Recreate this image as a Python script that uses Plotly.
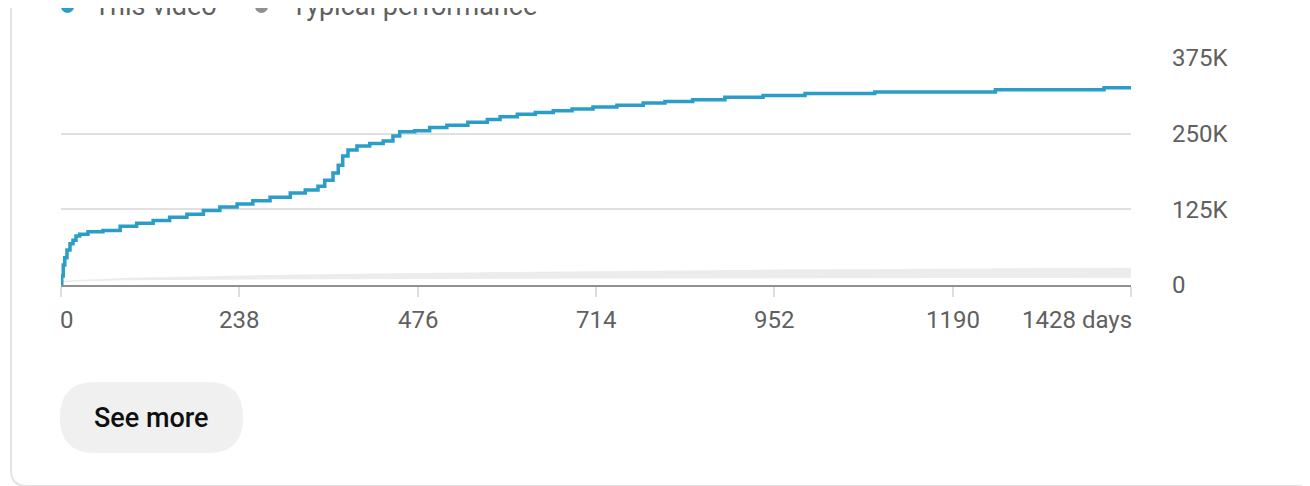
import plotly.graph_objects as go

# cumulative views, "This video"
days = [0, 1, 3, 5, 8, 12, 16, 20, 25, 36, 56, 79, 101, 123, 145, 168, 190, 212, 235, 256,
        279, 306, 326, 343, 352, 363, 370, 376, 383, 395, 412, 430, 443, 452, 472, 492, 515,
        543, 569, 586, 609, 633, 657, 682, 710, 742, 777, 806, 843, 886, 937, 993, 1086,
        1247, 1392, 1428]
views = [0, 15000, 33000, 45000, 58000, 68000, 74000, 81000, 84000, 88000, 90000, 97000,
         102000, 106500, 112000, 117000, 123000, 129000, 134000, 139000, 145000, 152000,
         157000, 163000, 173000, 185000, 198000, 213000, 223000, 229500, 233600, 238000,
         246000, 253000, 255000, 260000, 264000, 269000, 273600, 278000, 282000, 285000,
         288000, 290600, 294000, 297000, 300500, 303000, 306000, 310000, 313000, 316500,
         319000, 322500, 325700, 325700]

# typical performance band
typ_days = [0, 30, 90, 180, 300, 476, 714, 952, 1190, 1428]
typ_low = [4000, 6000, 8000, 9000, 9500, 10000, 10500, 11000, 11500, 12000]
typ_high = [7000, 9000, 12000, 14000, 17000, 20000, 23000, 25500, 27000, 28500]

x_ticks = [0, 238, 476, 714, 952, 1190, 1428]
x_tick_labels = ["0", "238", "476", "714", "952", "1190", "1428 days"]
y_ticks = [0, 125000, 250000, 375000]
y_tick_labels = ["0", "125K", "250K", "375K"]

BLUE = "#2b9dc9"
GREY_TXT = "#606060"
FONT = "Roboto"

# page has an 8px body margin, so the figure sits 8px right/down
W, H = 1310, 486
ML, MT = 53, 50
PW, PH = 1070, 227
MR, MB = W - ML - PW, H - MT - PH


def px(x):
    # page pixel -> paper x
    return (x - 61) / PW


def py(y):
    # page pixel -> paper y
    return (285 - y) / PH


fig = go.Figure()
fig.add_trace(go.Scatter(x=typ_days, y=typ_low, mode="lines", line=dict(width=0, color="#ececec"),
                         showlegend=False, hoverinfo="skip"))
fig.add_trace(go.Scatter(x=typ_days, y=typ_high, mode="lines", line=dict(width=0, color="#ececec"),
                         fill="tonexty", fillcolor="#ececec", showlegend=False, hoverinfo="skip"))
fig.add_trace(go.Scatter(x=days, y=views, mode="lines", line=dict(color=BLUE, width=3.5, shape="hv"),
                         showlegend=False, name="This video"))

# x tick labels: first left-aligned, last right-aligned
for i, (t, lab) in enumerate(zip(x_ticks, x_tick_labels)):
    anchor, shift = "center", 0
    if i == 0:
        anchor, shift = "left", -3
    elif i == len(x_ticks) - 1:
        anchor, shift = "right", 3
    fig.add_annotation(x=t, y=0, xref="x", yref="paper", text=lab, showarrow=False,
                       xanchor=anchor, xshift=shift, yanchor="top", yshift=-19,
                       font=dict(family=FONT, size=24, color=GREY_TXT))

# legend (cut off at the top, as in the screenshot)
fig.add_shape(type="circle", xref="paper", yref="paper", xsizemode="pixel", ysizemode="pixel",
              xanchor=px(67.5), yanchor=py(6.5), x0=-6.5, x1=6.5, y0=-6.5, y1=6.5,
              fillcolor=BLUE, line=dict(width=0))
fig.add_shape(type="circle", xref="paper", yref="paper", xsizemode="pixel", ysizemode="pixel",
              xanchor=px(261.5), yanchor=py(6.5), x0=-6.5, x1=6.5, y0=-6.5, y1=6.5,
              fillcolor="#909090", line=dict(width=0))
fig.add_annotation(x=px(92), y=py(5.5), xref="paper", yref="paper", text="This video",
                   showarrow=False, xanchor="left", yanchor="middle",
                   font=dict(family=FONT, size=27, color=GREY_TXT))
fig.add_annotation(x=px(289), y=py(5.5), xref="paper", yref="paper", text="Typical performance",
                   showarrow=False, xanchor="left", yanchor="middle",
                   font=dict(family=FONT, size=27, color=GREY_TXT))

# "See more" button
x0, x1, y0, y1 = px(60), px(243), py(453), py(382)
rx, ry = 35 / PW, 35 / PH
fig.add_shape(type="path", xref="paper", yref="paper", fillcolor="#f0f0f0", line=dict(width=0),
              path=(f"M {x0+rx},{y0} L {x1-rx},{y0} Q {x1},{y0} {x1},{y0+ry} L {x1},{y1-ry} "
                    f"Q {x1},{y1} {x1-rx},{y1} L {x0+rx},{y1} Q {x0},{y1} {x0},{y1-ry} "
                    f"L {x0},{y0+ry} Q {x0},{y0} {x0+rx},{y0} Z"))
fig.add_annotation(x=px(151.5), y=py(418), xref="paper", yref="paper", text="See more",
                   showarrow=False, xanchor="center", yanchor="middle",
                   font=dict(family=FONT, size=27, color="#0f0f0f", weight=500))

# card border (left edge + bottom-left corner)
bx0 = px(11)
fig.add_shape(type="path", xref="paper", yref="paper", line=dict(color="#e3e3e3", width=2),
              path=(f"M {bx0},{py(0)} L {bx0},{py(470)} Q {bx0},{py(486)} {px(27)},{py(486)} "
                    f"L {px(1320)},{py(486)}"))

fig.update_xaxes(range=[0, 1428], tickvals=x_ticks, ticktext=[""] * len(x_ticks),
                 ticks="outside", ticklen=10, tickwidth=2, tickcolor="#dddddd",
                 showline=True, linecolor="#909090", linewidth=2, showgrid=False, zeroline=False,
                 fixedrange=True)
fig.update_yaxes(range=[0, 375000], side="right", tickvals=y_ticks, ticktext=y_tick_labels,
                 showgrid=True, gridcolor="#e0e0e0", gridwidth=1.5, zeroline=False,
                 ticklabelstandoff=40, tickfont=dict(family=FONT, size=24, color=GREY_TXT),
                 fixedrange=True)
fig.update_layout(width=W, height=H, margin=dict(l=ML, r=MR, t=MT, b=MB),
                  paper_bgcolor="white", plot_bgcolor="white",
                  font=dict(family=FONT), showlegend=False)

fig.write_html("out.html")
